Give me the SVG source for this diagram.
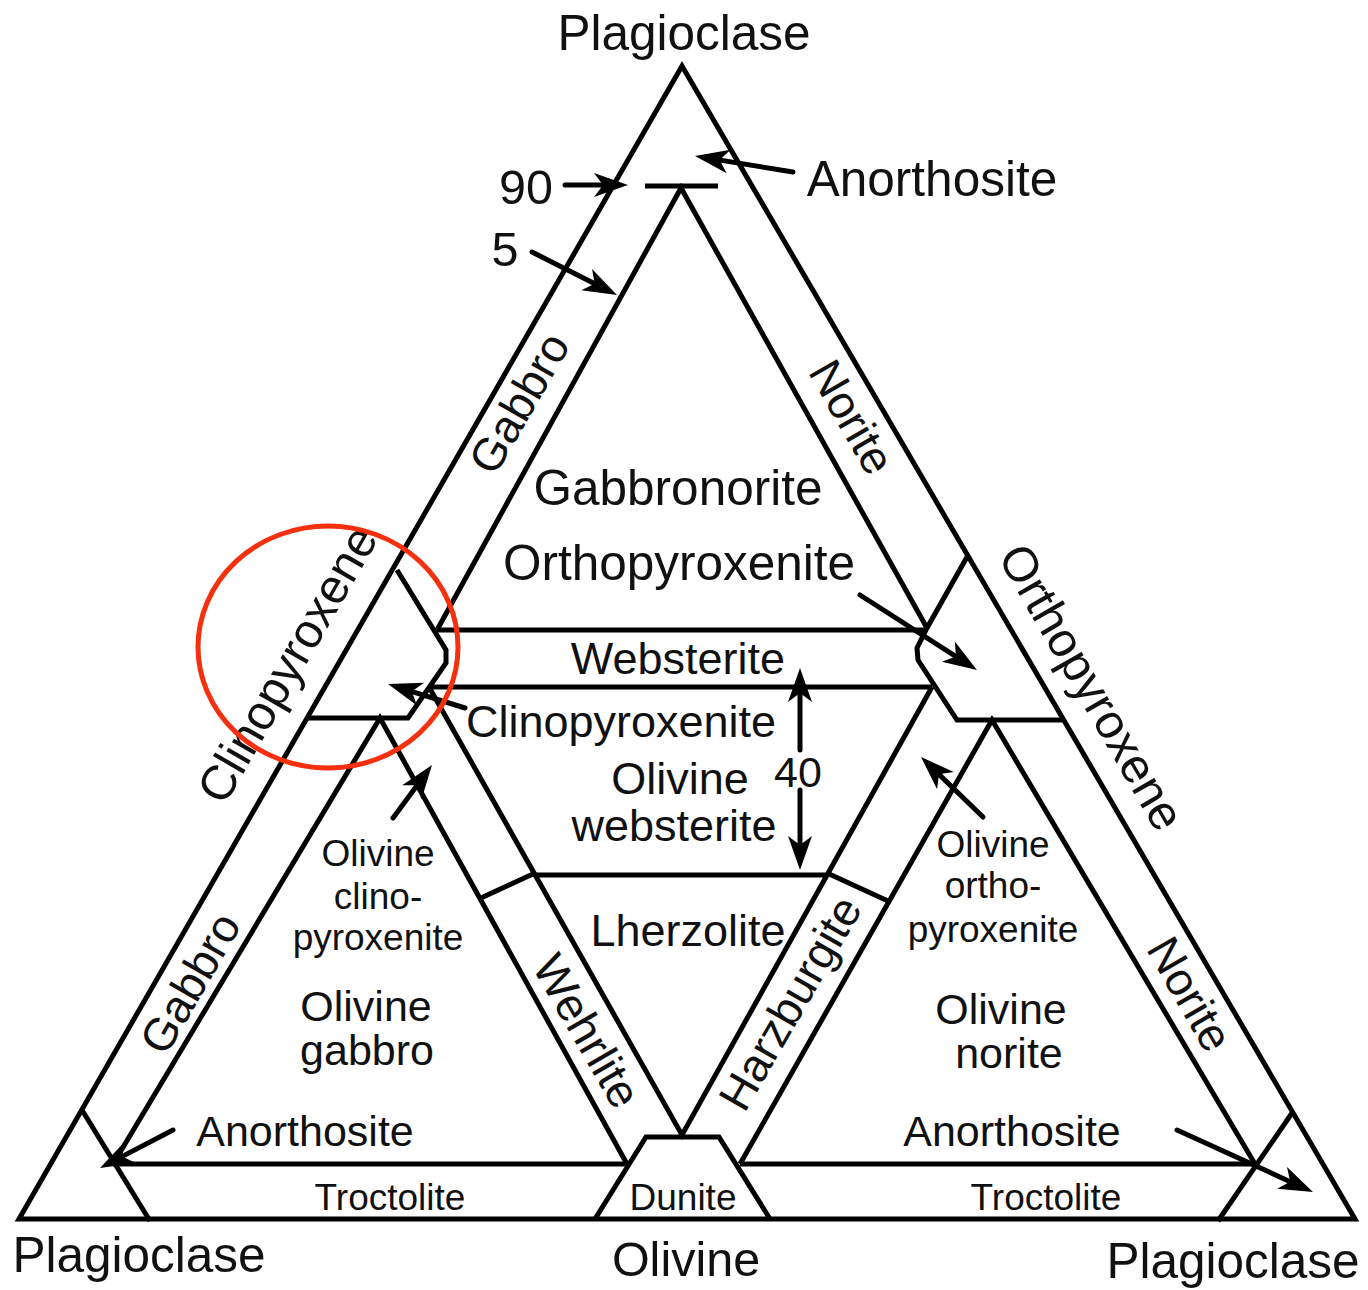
<svg xmlns="http://www.w3.org/2000/svg" width="1368" height="1290" viewBox="0 0 1368 1290">
<style>
.ln{fill:none;stroke:#000;stroke-width:5;stroke-linejoin:miter;stroke-linecap:butt}
.ar{fill:none;stroke:#000;stroke-width:5;stroke-linecap:round;marker-end:url(#ah)}
text{font-family:"Liberation Sans",Arial,Helvetica,sans-serif;fill:#111;text-anchor:middle}
.xl{font-size:49.5px}
.b{font-size:48.5px}
.l{font-size:45px}
.m{font-size:43px}
.s{font-size:37px}
.r{font-size:46px}
</style>
<defs>
<marker id="ah" markerUnits="userSpaceOnUse" markerWidth="40" markerHeight="30" viewBox="-20 -15 40 30" refX="0" refY="0" orient="auto">
<path d="M16,0 L-18,-12 L-9,0 L-18,12 Z" fill="#000"/>
</marker>
</defs>
<rect width="1368" height="1290" fill="#fff"/>

<g id="frame">
<polygon class="ln" points="682,66 19,1219 1355,1219"/>
<line class="ln" x1="645" y1="186" x2="718" y2="186"/>
<polyline class="ln" points="437,630 681,188 927,628"/>
<line class="ln" x1="437" y1="630" x2="927" y2="630"/>
<line class="ln" x1="429" y1="687" x2="932" y2="687"/>
<polyline class="ln" points="397,570 446,650 446,663 408,718 308,718"/>
<polyline class="ln" points="967,557 927,628 917,648 918,660 957,720 1062,720"/>
<polyline class="ln" points="113,1164 380,718 627,1164"/>
<line class="ln" x1="113" y1="1164" x2="627" y2="1164"/>
<polyline class="ln" points="740,1164 992,720 1255,1164"/>
<line class="ln" x1="740" y1="1164" x2="1255" y2="1164"/>
<polyline class="ln" points="429,687 682,1135 932,687"/>
<line class="ln" x1="535" y1="875" x2="827" y2="875"/>
<line class="ln" x1="481" y1="898" x2="535" y2="873"/>
<line class="ln" x1="827" y1="873" x2="888" y2="901"/>
<polyline class="ln" points="595,1219 646,1137 719,1137 770,1219"/>
<line class="ln" x1="82" y1="1110" x2="150" y2="1221"/>
<line class="ln" x1="1292" y1="1113" x2="1218" y2="1221"/>
</g>

<g id="connectors">
<line class="ar" x1="565" y1="185" x2="612" y2="185"/>
<line class="ar" x1="793" y1="172" x2="710.8" y2="158.6"/>
<line class="ar" x1="532" y1="252" x2="602.7" y2="287.8"/>
<line class="ar" x1="860" y1="595" x2="963.5" y2="661.4"/>
<line class="ar" x1="465" y1="708" x2="403.3" y2="688.8"/>
<line class="ar" x1="393" y1="818" x2="422.5" y2="777.9"/>
<line class="ar" x1="983" y1="817" x2="932.5" y2="768.1"/>
<line class="ar" x1="800" y1="750" x2="800" y2="684"/>
<line class="ar" x1="800" y1="790" x2="800" y2="854"/>
<line class="ar" x1="173" y1="1130" x2="114.2" y2="1160.6"/>
<line class="ar" x1="1177" y1="1130" x2="1298.4" y2="1185.4"/>
</g>

<g id="apex-labels">
<text class="xl" x="684" y="50">Plagioclase</text>
<text class="xl" x="139" y="1272">Plagioclase</text>
<text class="b" x="686" y="1276">Olivine</text>
<text class="xl" x="1233" y="1278">Plagioclase</text>
</g>

<g id="edge-labels">
<text class="xl" x="932" y="196">Anorthosite</text>
<text class="b" x="526" y="204">90</text>
<text class="b" x="505" y="266">5</text>
<text class="r" transform="translate(519,403) rotate(-60)" y="16">Gabbro</text>
<text class="r" transform="translate(852,417) rotate(60)" y="16">Norite</text>
<text class="b" transform="translate(287,664) rotate(-60)" y="17">Clinopyroxene</text>
<text class="b" transform="translate(1092,687) rotate(60)" y="17">Orthopyroxene</text>
<text class="r" transform="translate(190,983) rotate(-60)" y="16">Gabbro</text>
<text class="r" transform="translate(1190,994) rotate(60)" y="16">Norite</text>
<text class="r" transform="translate(587,1031) rotate(60)" y="16">Wehrlite</text>
<text class="r" transform="translate(790,1003) rotate(-60)" y="16">Harzburgite</text>
</g>

<g id="upper-field">
<text class="xl" x="678" y="505">Gabbronorite</text>
<text class="xl" x="679" y="580">Orthopyroxenite</text>
</g>

<g id="middle-field">
<text class="l" x="678" y="674">Websterite</text>
<text class="l" x="621" y="737">Clinopyroxenite</text>
<text class="l" x="680" y="794">Olivine</text>
<text class="l" x="674" y="841">websterite</text>
<text class="m" x="798" y="787">40</text>
<text class="l" x="688" y="946">Lherzolite</text>
</g>

<g id="left-field">
<text class="s" x="378" y="866">Olivine</text>
<text class="s" x="378" y="909">clino-</text>
<text class="s" x="378" y="950">pyroxenite</text>
<text class="m" x="366" y="1021">Olivine</text>
<text class="m" x="367" y="1065">gabbro</text>
<text class="m" x="305" y="1146">Anorthosite</text>
<text class="s" x="390" y="1210">Troctolite</text>
</g>

<g id="dunite">
<text class="s" x="683" y="1210">Dunite</text>
</g>

<g id="right-field">
<text class="s" x="993" y="857">Olivine</text>
<text class="s" x="993" y="898">ortho-</text>
<text class="s" x="993" y="942">pyroxenite</text>
<text class="m" x="1001" y="1024">Olivine</text>
<text class="m" x="1009" y="1068">norite</text>
<text class="m" x="1012" y="1146">Anorthosite</text>
<text class="s" x="1046" y="1210">Troctolite</text>
</g>

<g id="highlight">
<ellipse cx="328" cy="647" rx="130" ry="121" fill="none" stroke="#f5300f" stroke-width="5"/>
</g>
</svg>
